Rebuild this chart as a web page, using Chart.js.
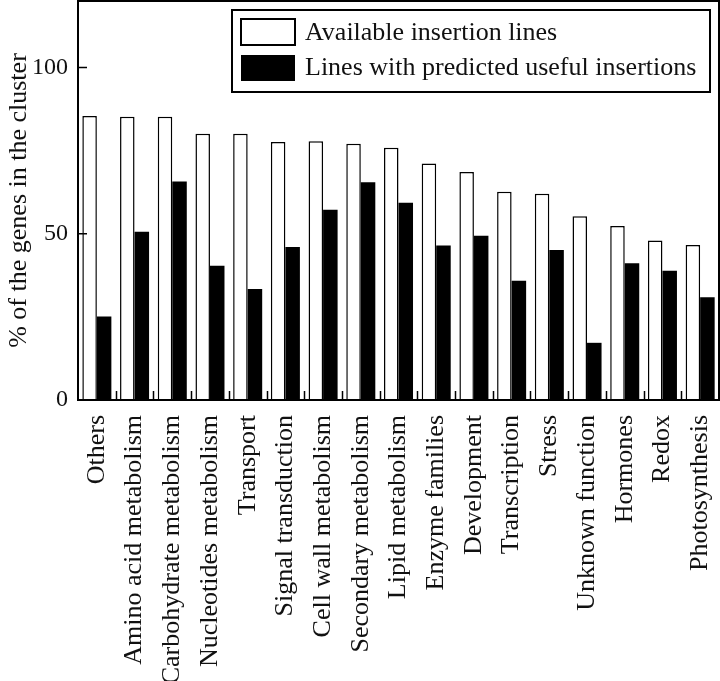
<!DOCTYPE html>
<html>
<head>
<meta charset="utf-8">
<script src="https://cdn.jsdelivr.net/npm/chart.js@4.4.0/dist/chart.umd.min.js"></script>
<style>
  html, body { margin: 0; padding: 0; background: #fff; }
</style>
</head>
<body>
<canvas id="barChart" width="720" height="681"></canvas>
<script>
// data
const categories = ['Others', 'Amino acid metabolism', 'Carbohydrate metabolism', 'Nucleotides metabolism',
  'Transport', 'Signal transduction', 'Cell wall metabolism', 'Secondary metabolism', 'Lipid metabolism',
  'Enzyme families', 'Development', 'Transcription', 'Stress', 'Unknown function', 'Hormones', 'Redox',
  'Photosynthesis'];
const availableLines = [85.4, 85.2, 85.2, 80.1, 80.1, 77.6, 77.8, 77.1, 75.9, 71.1, 68.6, 62.6, 62.0, 55.3, 52.3, 48.0, 46.6];
const usefulLines = [25.1, 50.6, 65.7, 40.4, 33.4, 46.0, 57.2, 65.5, 59.3, 46.5, 49.4, 35.9, 45.1, 17.2, 41.1, 38.9, 30.9];
const yTickValues = [0, 50, 100];
const seriesNames = ['Available insertion lines', 'Lines with predicted useful insertions'];

const serif = '"Liberation Serif", "DejaVu Serif", serif';

// frame, inward ticks and the boxed legend
const framePlugin = {
  id: 'frame',
  afterDraw(chart) {
    const ctx = chart.ctx;
    const a = chart.chartArea;
    const ys = chart.scales.y;
    ctx.save();
    ctx.strokeStyle = '#000';
    ctx.lineWidth = 2;
    ctx.strokeRect(a.left, a.top, a.right - a.left, a.bottom - a.top);

    ctx.lineWidth = 1.5;
    ctx.beginPath();
    yTickValues.forEach(v => {
      if (v === 0) return;
      const y = ys.getPixelForValue(v);
      ctx.moveTo(a.left, y);
      ctx.lineTo(a.left + 9, y);
    });
    const step = (a.right - a.left) / categories.length;
    for (let i = 1; i < categories.length; i++) {
      const x = Math.round(a.left + step * i) + 0.5;
      ctx.moveTo(x, a.bottom);
      ctx.lineTo(x, a.bottom - 9);
    }
    ctx.stroke();

    // legend
    ctx.lineWidth = 2;
    ctx.strokeRect(232, 10, 478, 82);
    ctx.fillStyle = '#fff';
    ctx.fillRect(241, 19, 54, 26);
    ctx.strokeRect(241, 19, 54, 26);
    ctx.fillStyle = '#000';
    ctx.fillRect(241, 55, 54, 26);
    ctx.font = '26px ' + serif;
    ctx.textBaseline = 'middle';
    ctx.fillStyle = '#111';
    ctx.fillText(seriesNames[0], 305, 33);
    ctx.fillText(seriesNames[1], 305, 68);
    ctx.restore();
  }
};

const barChart = new Chart(document.getElementById('barChart'), {
  type: 'bar',
  data: {
    labels: categories,
    datasets: [
      {
        label: seriesNames[0],
        data: availableLines,
        backgroundColor: '#fff',
        borderColor: '#000',
        borderWidth: 1.5,
        borderSkipped: 'bottom',
        barPercentage: 1,
        categoryPercentage: 0.77
      },
      {
        label: seriesNames[1],
        data: usefulLines,
        backgroundColor: '#000',
        borderColor: '#000',
        borderWidth: 0,
        barPercentage: 1,
        categoryPercentage: 0.77
      }
    ]
  },
  options: {
    responsive: false,
    animation: false,
    layout: { padding: { top: 1, right: 1, left: 0, bottom: 0 } },
    plugins: {
      legend: { display: false },
      tooltip: { enabled: false }
    },
    scales: {
      x: {
        grid: { display: false, drawTicks: false },
        border: { display: false },
        ticks: {
          autoSkip: false,
          maxRotation: 90,
          minRotation: 90,
          padding: 15,
          color: '#111',
          font: { family: serif, size: 26 }
        },
        afterFit(scale) {
          scale.height = 281;
          scale.paddingLeft = 0;
          scale.paddingRight = 0;
        }
      },
      y: {
        min: 0,
        max: 120,
        grid: { display: false, drawTicks: false },
        border: { display: false },
        afterBuildTicks(scale) {
          scale.ticks = yTickValues.map(v => ({ value: v }));
        },
        ticks: {
          padding: 10,
          color: '#111',
          font: { family: serif, size: 24 }
        },
        title: {
          display: true,
          text: '% of the genes in the cluster',
          color: '#111',
          font: { family: serif, size: 26 },
          padding: { top: 4, bottom: 0 }
        },
        afterFit(scale) {
          scale.width = 78;
          scale.paddingTop = 0;
          scale.paddingBottom = 0;
        }
      }
    }
  },
  plugins: [framePlugin]
});
</script>
</body>
</html>
